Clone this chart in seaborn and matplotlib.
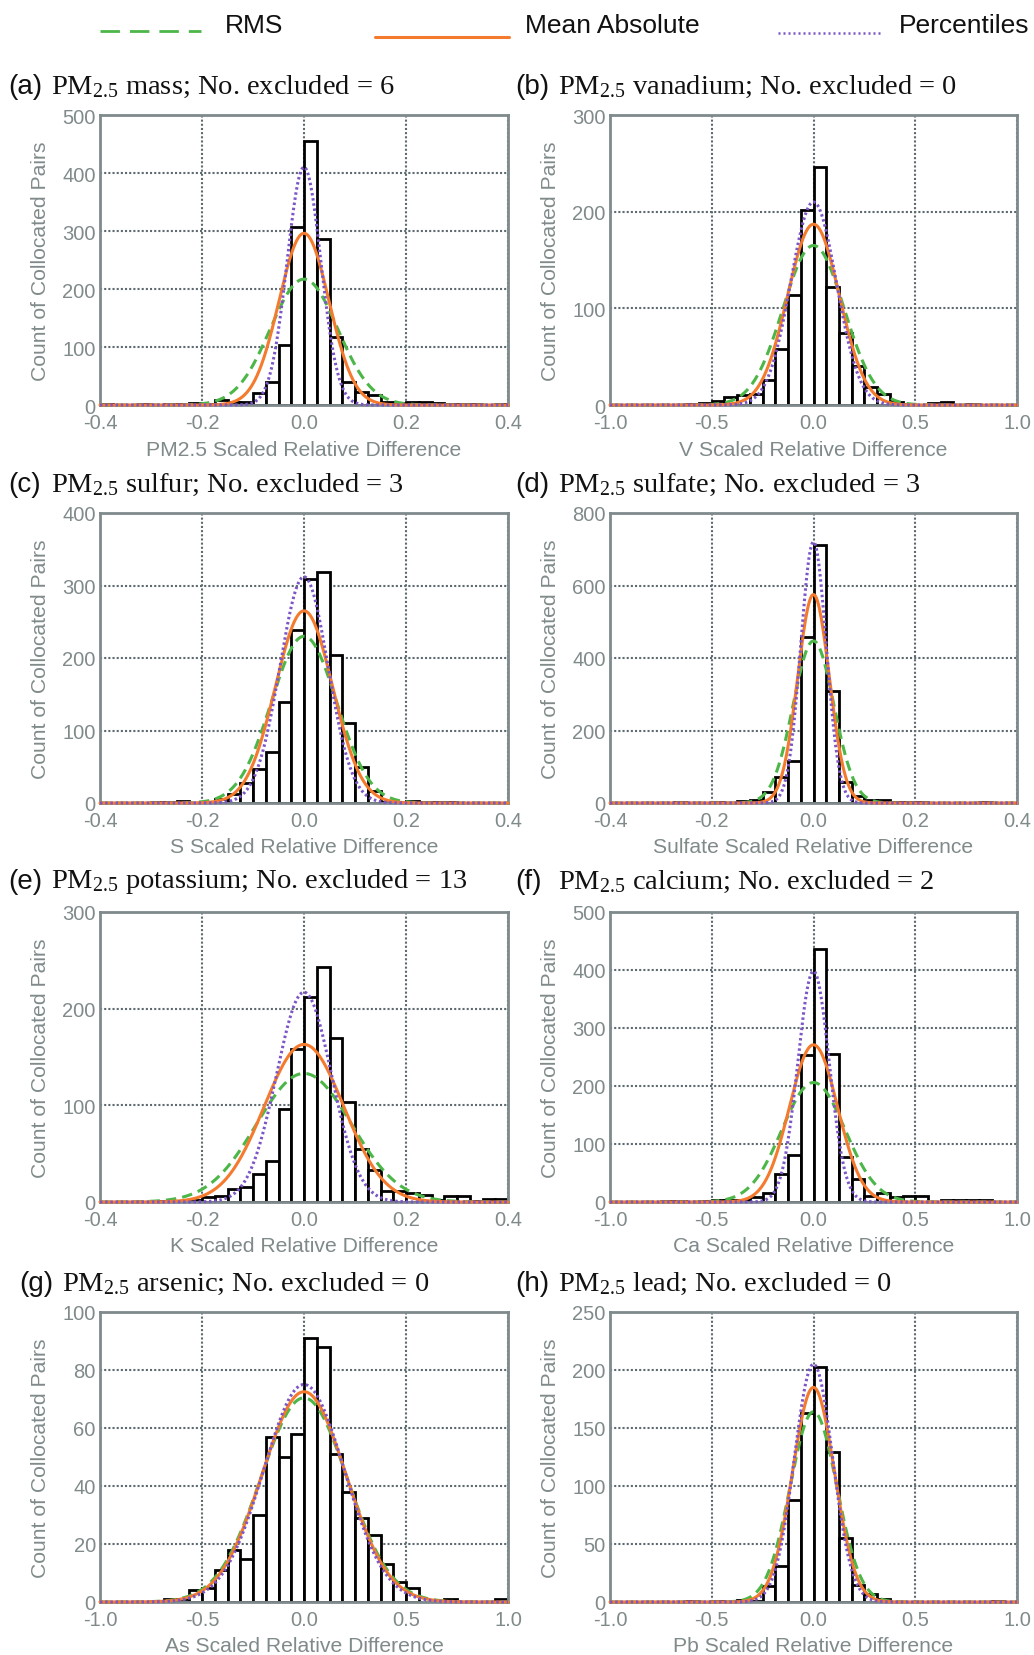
import numpy as np
import pandas as pd
import matplotlib
matplotlib.use("Agg")
import matplotlib.pyplot as plt
import seaborn as sns
from matplotlib.lines import Line2D
from matplotlib.ticker import FormatStrFormatter

# counts in 32 equal-width bins spanning each panel's x range
mass_counts = [1, 0, 0, 1, 0, 1, 1, 3, 2, 8, 5, 6, 20, 40, 103, 307,
               455, 287, 117, 40, 23, 18, 5, 3, 6, 5, 4, 2, 2, 2, 0, 1]
vanadium_counts = [0, 0, 0, 0, 0, 0, 1, 2, 4, 8, 10, 11, 26, 58, 114, 202,
                   246, 122, 75, 40, 19, 11, 3, 1, 0, 2, 3, 0, 1, 0, 0, 0]
sulfur_counts = [0, 0, 0, 0, 2, 2, 3, 0, 0, 5, 12, 27, 47, 71, 139, 239,
                 309, 318, 204, 110, 50, 16, 1, 0, 3, 1, 1, 1, 0, 0, 0, 0]
sulfate_counts = [0, 0, 0, 0, 0, 2, 0, 0, 3, 0, 5, 8, 30, 71, 117, 457,
                  711, 309, 57, 19, 9, 7, 3, 3, 3, 0, 0, 0, 0, 2, 0, 0]
potassium_counts = [0, 0, 0, 0, 1, 1, 0, 2, 5, 6, 13, 16, 29, 42, 96, 158,
                    212, 243, 170, 103, 55, 33, 11, 11, 9, 7, 2, 6, 6, 1, 3, 3]
calcium_counts = [0, 0, 0, 0, 1, 1, 0, 1, 3, 4, 4, 9, 16, 48, 81, 254,
                  437, 256, 78, 40, 10, 16, 9, 10, 11, 0, 4, 3, 3, 3, 0, 0]
arsenic_counts = [0, 0, 0, 0, 0, 1, 1, 4, 5, 11, 18, 15, 30, 57, 50, 58,
                  91, 88, 51, 38, 29, 23, 13, 7, 5, 0, 0, 1, 0, 0, 0, 1]
lead_counts = [0, 0, 0, 0, 0, 0, 1, 0, 1, 0, 2, 1, 14, 31, 88, 163,
               203, 129, 55, 15, 7, 3, 0, 0, 0, 0, 0, 0, 0, 0, 1, 0]

panel_letters = ["a", "b", "c", "d", "e", "f", "g", "h"]
species = ["mass", "vanadium", "sulfur", "sulfate", "potassium", "calcium", "arsenic", "lead"]
n_excluded = [6, 0, 3, 3, 13, 2, 0, 0]
xlabel_names = ["PM2.5", "V", "S", "Sulfate", "K", "Ca", "As", "Pb"]
x_limits = [0.4, 1.0, 0.4, 0.4, 0.4, 1.0, 1.0, 1.0]
y_max = [500, 300, 400, 800, 300, 500, 100, 250]
y_step = [100, 100, 100, 200, 100, 100, 20, 50]

# fitted normal curves (peak height, sigma) per panel
rms_peak = [217, 165, 230, 447, 133, 206, 70.4, 164]
rms_sigma = [0.066, 0.150, 0.064, 0.040, 0.093, 0.155, 0.212, 0.115]
mae_peak = [296, 187, 265, 575, 163, 271, 72.5, 185]
mae_sigma = [0.049, 0.127, 0.056, 0.031, 0.078, 0.118, 0.206, 0.103]
pct_peak = [410, 210, 312, 720, 217, 398, 75, 205]
pct_sigma = [0.033, 0.112, 0.047, 0.025, 0.054, 0.077, 0.198, 0.094]

all_counts = [mass_counts, vanadium_counts, sulfur_counts, sulfate_counts,
              potassium_counts, calcium_counts, arsenic_counts, lead_counts]

methods = ["RMS", "Mean Absolute", "Percentiles"]
palette = {"RMS": "#4cb748", "Mean Absolute": "#f47a2e", "Percentiles": "#7c55c6"}
dashes = {"RMS": (3.4, 2.0), "Mean Absolute": "", "Percentiles": (0.8, 0.9)}

GRAY_TXT = "#808a8b"
GRAY_SPINE = "#7f8a8c"
GRAY_GRID = "#5d6a70"

sns.set_style("white")
plt.rcParams["font.family"] = ["Liberation Sans", "DejaVu Sans"]
plt.rcParams["axes.unicode_minus"] = False
plt.rcParams["mathtext.fontset"] = "custom"
plt.rcParams["mathtext.rm"] = "Liberation Serif"
plt.rcParams["mathtext.it"] = "Liberation Serif:italic"

W, H = 1034, 1656
fig = plt.figure(figsize=(W / 100, H / 100), dpi=100)

col_x = [100, 610]
col_w = [408, 407]
row_top = [116, 514, 913, 1313]
ax_h = 290
title_y = [87, 485, 882, 1284]
title_x = [8, 515]


def fig_xy(px, py):
    return px / W, 1 - py / H


for i in range(8):
    r, c = divmod(i, 2)
    left, bottom = fig_xy(col_x[c], row_top[r] + ax_h)
    ax = fig.add_axes([left, bottom, col_w[c] / W, ax_h / H])

    lim = x_limits[i]
    n_bins = len(all_counts[i])
    edges = np.linspace(-lim, lim, n_bins + 1)
    hist_df = pd.DataFrame({"center": (edges[:-1] + edges[1:]) / 2,
                            "count": all_counts[i]})
    sns.histplot(data=hist_df, x="center", weights="count", bins=n_bins,
                 binrange=(-lim, lim), ax=ax, color="white",
                 edgecolor="black", linewidth=2.0, alpha=1)
    for p in ax.patches:
        if p.get_height() == 0:
            p.set_visible(False)

    xs = np.linspace(-lim, lim, 801)
    curves = []
    for m, pk, sg in zip(methods,
                         [rms_peak[i], mae_peak[i], pct_peak[i]],
                         [rms_sigma[i], mae_sigma[i], pct_sigma[i]]):
        curves.append(pd.DataFrame({"x": xs,
                                    "y": pk * np.exp(-0.5 * (xs / sg) ** 2),
                                    "method": m}))
    curve_df = pd.concat(curves, ignore_index=True)
    sns.lineplot(data=curve_df, x="x", y="y", hue="method", style="method",
                 hue_order=methods, style_order=methods, palette=palette,
                 dashes=dashes, linewidth=2.2, legend=False, ax=ax,
                 estimator=None, sort=False)
    for ln in ax.lines:
        ln.set_zorder(3)
        ln.set_clip_on(False)

    ax.set_xlim(-lim, lim)
    ax.set_ylim(0, y_max[i])
    ax.set_xticks(np.linspace(-lim, lim, 5))
    ax.set_yticks(np.arange(0, y_max[i] + 1, y_step[i]))
    ax.xaxis.set_major_formatter(FormatStrFormatter("%.1f"))
    ax.yaxis.set_major_formatter(FormatStrFormatter("%d"))
    ax.set_axisbelow(True)
    ax.grid(True, color=GRAY_GRID, linewidth=1.5, dashes=(1.0, 1.0))
    for sp in ax.spines.values():
        sp.set_visible(True)
        sp.set_color(GRAY_SPINE)
        sp.set_linewidth(2.0)
    ax.tick_params(length=0, labelsize=14.5, labelcolor=GRAY_TXT)
    ax.tick_params(axis="x", pad=6)
    ax.tick_params(axis="y", pad=3)

    ax.set_xlabel(f"{xlabel_names[i]} Scaled Relative Difference",
                  fontsize=15.2, color=GRAY_TXT, va="center")
    ax.xaxis.set_label_coords(0.5, -44 / ax_h)
    ax.set_ylabel("Count of Collocated Pairs", fontsize=15.2,
                  color=GRAY_TXT, va="center")
    ax.yaxis.set_label_coords(-60 / col_w[c], 0.5)

    tx = title_x[c] + (11 if i == 6 else 0)
    fx, fy = fig_xy(tx, title_y[r])
    fig.text(fx, fy, f"({panel_letters[i]})", fontsize=20,
             family="Liberation Sans", va="center", ha="left", color="#111111")
    fx2, _ = fig_xy(tx + 43, 0)
    fig.text(fx2, fy, f"PM$_{{2.5}}$ {species[i]}; No. excluded = {n_excluded[i]}",
             fontsize=20.5, family="Liberation Serif", va="center", ha="left",
             color="#111111")

# legend row across the top
leg_items = [
    ("RMS", 100, 201, 32, 225, dict(dashes=(7, 3.6), linewidth=2.0)),
    ("Mean Absolute", 375, 509, 37.5, 525, dict(linestyle="-", linewidth=2.2)),
    ("Percentiles", 778, 880, 34, 899, dict(dashes=(0.8, 1.2), linewidth=1.8)),
]
for name, x0, x1, ly, tx, kw in leg_items:
    a0, b0 = fig_xy(x0, ly)
    a1, _ = fig_xy(x1, ly)
    fig.add_artist(Line2D([a0, a1], [b0, b0], color=palette[name],
                          transform=fig.transFigure, **kw))
    tfx, tfy = fig_xy(tx, 33)
    fig.text(tfx, tfy, name, fontsize=19, va="baseline", ha="left",
             color="#111111")

fig.savefig("out.png", dpi=100)
